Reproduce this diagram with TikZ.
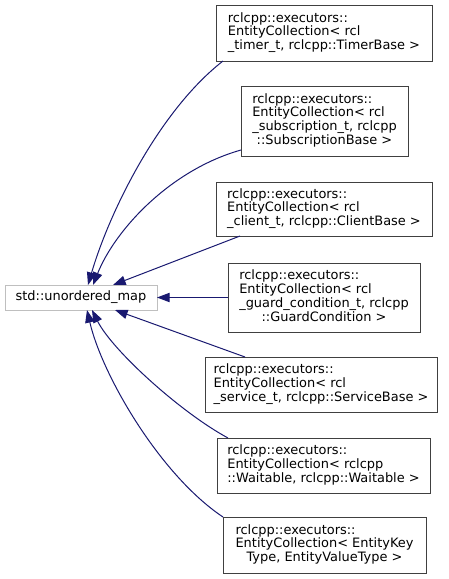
\documentclass[tikz,border=0pt]{standalone}
\usepackage{fontspec}
\setmainfont{DejaVu Sans}
\usetikzlibrary{arrows.meta,calc}
\definecolor{edgeblue}{HTML}{191970}
\definecolor{boxgray}{HTML}{404040}
\definecolor{lightgray}{HTML}{BFBFBF}
\newcommand{\cls}[2]{\begin{tabular}{@{}l@{}}#1\\\multicolumn{1}{@{}c@{}}{#2}\end{tabular}}
\tikzset{
  cbox/.style={draw=boxgray, line width=0.75pt, fill=white, rectangle, inner sep=0pt, outer sep=0pt,
    font=\fontsize{9.7}{10.1}\selectfont},
  mainbox/.style={draw=lightgray, line width=0.75pt, fill=white, rectangle, inner sep=0pt, outer sep=0pt,
    font=\fontsize{9.7}{10.1}\selectfont},
  inh/.style={draw=edgeblue, line width=0.75pt, -{Triangle[length=9.5pt,width=7pt]}, color=edgeblue}
}
\begin{document}
\begin{tikzpicture}[x=0.75pt,y=-0.75pt]
\useasboundingbox (0,0) rectangle (449,579);
\node[mainbox, minimum width=114pt, minimum height=18.75pt] (main) at (81,297.5) {std::unordered\_map};
\node[cbox, minimum width=162pt, minimum height=42pt] (timer) at (324,33)
  {\cls{rclcpp::executors::\\EntityCollection< rcl}{\_timer\_t, rclcpp::TimerBase >}};
\node[cbox, minimum width=125.25pt, minimum height=52.5pt] (sub) at (324.5,121)
  {\cls{rclcpp::executors::\\EntityCollection< rcl\\\_subscription\_t, rclcpp}{::SubscriptionBase >}};
\node[cbox, minimum width=162pt, minimum height=40.5pt] (client) at (324,209)
  {\cls{rclcpp::executors::\\EntityCollection< rcl}{\_client\_t, rclcpp::ClientBase >}};
\node[cbox, minimum width=144pt, minimum height=51.75pt] (guard) at (324,297.5)
  {\cls{rclcpp::executors::\\EntityCollection< rcl\\\_guard\_condition\_t, rclcpp}{::GuardCondition >}};
\node[cbox, minimum width=174pt, minimum height=41.25pt] (service) at (321,384.5)
  {\cls{rclcpp::executors::\\EntityCollection< rcl}{\_service\_t, rclcpp::ServiceBase >}};
\node[cbox, minimum width=159.75pt, minimum height=41.25pt] (wait) at (323.5,465.5)
  {\cls{rclcpp::executors::\\EntityCollection< rclcpp}{::Waitable, rclcpp::Waitable >}};
\node[cbox, minimum width=152.25pt, minimum height=42pt] (ekey) at (324.5,545)
  {\cls{rclcpp::executors::\\EntityCollection< EntityKey}{Type, EntityValueType >}};

\draw[inh] ($(timer.south west)+(7,0)$) .. controls (160,110) and (110,210) .. ($(main.north west)+(83,0)$);
\draw[inh] ($(sub.south west)+(0,-6)$) .. controls (170,170) and (115,230) .. ($(main.north west)+(88,0)$);
\draw[inh] ($(client.south west)+(24,0)$) -- ($(main.north west)+(108,0)$);
\draw[inh] (guard.west) -- (main.east);
\draw[inh] ($(service.north west)+(40,0)$) -- ($(main.south west)+(110,0)$);
\draw[inh] ($(wait.north west)+(11,0)$) .. controls (180,412) and (112,350) .. ($(main.south west)+(87,0)$);
\draw[inh] ($(ekey.north west)+(0,0)$) .. controls (160,475) and (102,375) .. ($(main.south west)+(82,0)$);
\end{tikzpicture}
\end{document}
